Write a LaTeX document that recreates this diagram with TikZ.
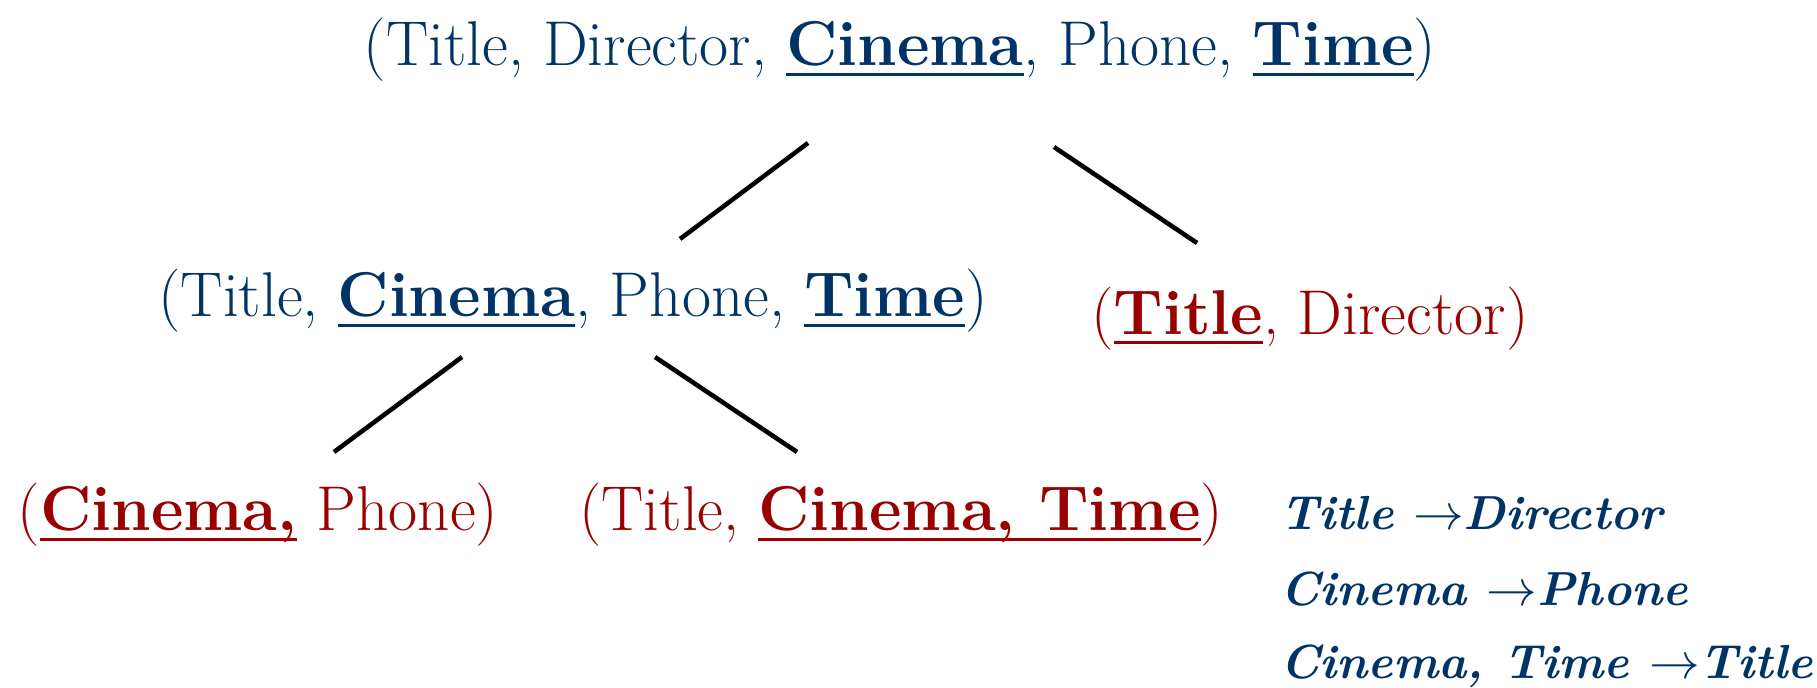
\documentclass[tikz,border=0pt]{standalone}
\usepackage{fontspec}
\usetikzlibrary{positioning}

\definecolor{navy}{RGB}{0,51,102}
\definecolor{darkred}{RGB}{153,0,0}
\newsavebox{\keybox}
\newcommand{\keyattr}[1]{\sbox{\keybox}{\textbf{#1}}\rlap{\rule[-0.16em]{\wd\keybox}{0.055em}}\usebox{\keybox}}

\begin{document}
\begin{tikzpicture}[x=0.01cm, y=-0.01cm, line width=1.3pt]
				\tikzstyle{rel} = [inner sep=0pt, anchor=base, text=navy, font=\fontsize{18}{21}\selectfont]
				\tikzstyle{bcnf} = [rel, text=darkred]
				\tikzstyle{fd} = [inner sep=0pt, anchor=base west, text=navy, font=\fontsize{13.6}{16}\selectfont\bfseries\itshape]
				
				\useasboundingbox (0,0) rectangle (1817,688);
				
				\node[rel] 	at (900, 66) 	(r) 	{(Title, Director, \keyattr{Cinema}, Phone, \keyattr{Time})};
				\node[rel] 	at (573, 317) 	(r1) 	{(Title, \keyattr{Cinema}, Phone, \keyattr{Time})};
				\node[bcnf] 	at (1310, 334) 	(r2) 	{(\keyattr{Title}, Director)};
				\node[bcnf] 	at (258, 531) 	(r11) 	{(\keyattr{Cinema,} Phone)};
				\node[bcnf] 	at (901, 531) 	(r12) 	{(Title, \keyattr{Cinema, Time})};
				
				\node[fd] 	at (1278, 530) 	(fd1) 	{Title $\rightarrow$Director};
				\node[fd] 	at (1278, 605) 	(fd2) 	{Cinema $\rightarrow$Phone};
				\node[fd] 	at (1278, 678) 	(fd3) 	{Cinema, Time $\rightarrow$Title};
				
				% ends of the split lines
				\coordinate (r-a) 	at (808, 143);
				\coordinate (r-b) 	at (1054, 147);
				\coordinate (r1-a) 	at (680, 239);
				\coordinate (r2-a) 	at (1197, 243);
				\coordinate (r1-b) 	at (462, 357);
				\coordinate (r1-c) 	at (655, 357);
				\coordinate (r11-a) 	at (334, 452);
				\coordinate (r12-a) 	at (797, 452);
				
				\path[draw]
				(r-a)	--	(r1-a)
				(r-b)	--	(r2-a)
				(r1-b)	--	(r11-a)
				(r1-c)	--	(r12-a);
\end{tikzpicture}
\end{document}
